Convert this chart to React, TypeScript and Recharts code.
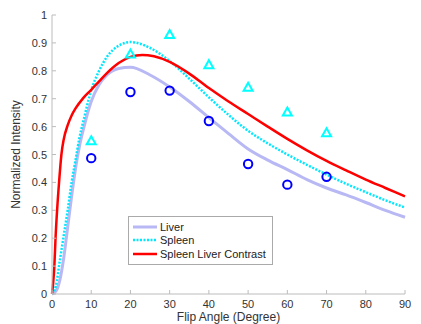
import React from 'react';
import { ComposedChart, Line, Scatter, XAxis, YAxis, Legend, Label } from 'recharts';

// fitted curves (flip angle in degrees -> normalized intensity)
const liverAngles = [0, 1, 2, 3, 4, 5, 6, 7, 8, 10, 12, 14, 17, 20, 25, 30, 35, 40, 45, 50, 55, 60, 65, 70, 75, 80, 85, 90];
const liverCurve = [0, 0.01, 0.05, 0.13, 0.24, 0.35, 0.45, 0.53, 0.59, 0.69, 0.75, 0.785, 0.808, 0.813, 0.785, 0.742, 0.69, 0.632, 0.575, 0.52, 0.48, 0.446, 0.41, 0.38, 0.355, 0.328, 0.3, 0.275];

const spleenAngles = [0, 1, 2, 3, 4, 5, 6, 7, 8, 10, 12, 14, 17, 20, 25, 30, 35, 40, 45, 50, 55, 60, 65, 70, 75, 80, 85, 90];
const spleenCurve = [0, 0.03, 0.12, 0.21, 0.3, 0.4, 0.48, 0.56, 0.62, 0.73, 0.8, 0.85, 0.89, 0.903, 0.882, 0.835, 0.772, 0.705, 0.642, 0.585, 0.54, 0.5, 0.463, 0.428, 0.395, 0.365, 0.336, 0.31];

const contrastAngles = [0, 0.3, 0.6, 0.9, 1.3, 1.8, 2.4, 3, 4, 5, 6, 8, 10, 12, 14, 17, 20, 23, 26, 30, 35, 40, 45, 50, 55, 60, 65, 70, 75, 80, 85, 90];
const contrastCurve = [0, 0.04, 0.1, 0.2, 0.3, 0.4, 0.5, 0.555, 0.605, 0.64, 0.665, 0.703, 0.732, 0.762, 0.792, 0.828, 0.85, 0.857, 0.852, 0.832, 0.79, 0.738, 0.69, 0.645, 0.6, 0.556, 0.515, 0.477, 0.443, 0.41, 0.38, 0.35];

// measured points
const sampleAngles = [10, 20, 30, 40, 50, 60, 70];
const liverMeasured = [0.487, 0.724, 0.729, 0.62, 0.466, 0.392, 0.42];
const spleenMeasured = [0.549, 0.86, 0.93, 0.822, 0.741, 0.652, 0.578];

const xTicks = [0, 10, 20, 30, 40, 50, 60, 70, 80, 90];
const yTicks = [0, 0.1, 0.2, 0.3, 0.4, 0.5, 0.6, 0.7, 0.8, 0.9, 1];

const zip = (xs: number[], ys: number[]) => xs.map((angle, i) => ({ angle, v: ys[i] }));

const liverData = zip(liverAngles, liverCurve);
const spleenData = zip(spleenAngles, spleenCurve);
const contrastData = zip(contrastAngles, contrastCurve);
const liverPts = zip(sampleAngles, liverMeasured);
const spleenPts = zip(sampleAngles, spleenMeasured);

const FONT = '"Liberation Sans", Arial, sans-serif';
const AXIS = '#bcbcbc';
const TEXT = '#333';

const YTick = (props: any) => {
  const { x, y, payload } = props;
  return (
    <g>
      <line x1={x + 5} x2={x + 9} y1={y} y2={y} stroke={AXIS} />
      <text x={x} y={y} dy={4} textAnchor="end" fontSize={11} fontFamily={FONT} fill={TEXT}>{payload.value}</text>
    </g>
  );
};

const XTick = (props: any) => {
  const { x, y, payload } = props;
  return (
    <g>
      <line x1={x} x2={x} y1={y - 4} y2={y - 8} stroke={AXIS} />
      <text x={x} y={y} dy={10} textAnchor="middle" fontSize={11} fontFamily={FONT} fill={TEXT}>{payload.value}</text>
    </g>
  );
};

const Circle = (props: any) => <circle cx={props.cx} cy={props.cy} r={4.2} fill="none" stroke="#0000ff" strokeWidth={2} />;

const Triangle = (props: any) => {
  const { cx, cy } = props;
  return <path d={`M${cx},${cy - 4.5}L${cx + 4.5},${cy + 3.5}L${cx - 4.5},${cy + 3.5}Z`} fill="none" stroke="#00ffff" strokeWidth={2} />;
};

const legendItems = [
  { name: 'Liver', color: '#b8b8f4', dash: undefined, width: 3 },
  { name: 'Spleen', color: '#00e8ff', dash: '2 1.5', width: 2.5 },
  { name: 'Spleen Liver Contrast', color: '#ff0000', dash: undefined, width: 2.5 },
];

const LegendBox = () => (
  <div style={{ border: '1px solid #aaa', background: '#fff', padding: '3px 6px 3px 4px', fontFamily: FONT, fontSize: 11, color: '#222' }}>
    {legendItems.map(it => (
      <div key={it.name} style={{ display: 'flex', alignItems: 'center', height: 13.5 }}>
        <svg width={24} height={6} style={{ marginRight: 3 }}>
          <line x1={0} x2={24} y1={3} y2={3} stroke={it.color} strokeWidth={it.width} strokeDasharray={it.dash} />
        </svg>
        <span>{it.name}</span>
      </div>
    ))}
  </div>
);

export default function App() {
  return (
    <div style={{ width: 421, height: 324, background: '#fff' }}>
      <style>{'body{margin:0}'}</style>
      <ComposedChart width={421} height={324} margin={{ top: 15, right: 16, left: 0, bottom: 0 }}>
        <XAxis
          dataKey="angle"
          type="number"
          domain={[0, 90]}
          ticks={xTicks}
          tick={<XTick />}
          tickSize={0}
          tickMargin={4}
          stroke={AXIS}
          height={30}
        >
          <Label value="Flip Angle (Degree)" position="insideBottom" offset={3} style={{ fontFamily: FONT, fontSize: 12, fill: TEXT }} />
        </XAxis>
        <YAxis
          dataKey="v"
          type="number"
          domain={[0, 1]}
          ticks={yTicks}
          tick={<YTick />}
          tickSize={0}
          tickMargin={5}
          stroke={AXIS}
          width={52}
        >
          <Label value="Normalized Intensity" angle={-90} position="center" dx={-10} style={{ fontFamily: FONT, fontSize: 12, fill: TEXT }} />
        </YAxis>
        <Line data={liverData} dataKey="v" type="monotone" stroke="#b8b8f4" strokeWidth={3} dot={false} isAnimationActive={false} />
        <Line data={spleenData} dataKey="v" type="monotone" stroke="#00e8ff" strokeWidth={2.5} strokeDasharray="2 1.5" dot={false} isAnimationActive={false} />
        <Line data={contrastData} dataKey="v" type="monotone" stroke="#ff0000" strokeWidth={2.5} dot={false} isAnimationActive={false} />
        <Scatter data={liverPts} dataKey="v" shape={<Circle />} isAnimationActive={false} />
        <Scatter data={spleenPts} dataKey="v" shape={<Triangle />} isAnimationActive={false} />
        <Legend
          layout="vertical"
          align="center"
          verticalAlign="middle"
          content={<LegendBox />}
          wrapperStyle={{ left: 128, top: 216, width: 'auto' }}
        />
      </ComposedChart>
    </div>
  );
}
